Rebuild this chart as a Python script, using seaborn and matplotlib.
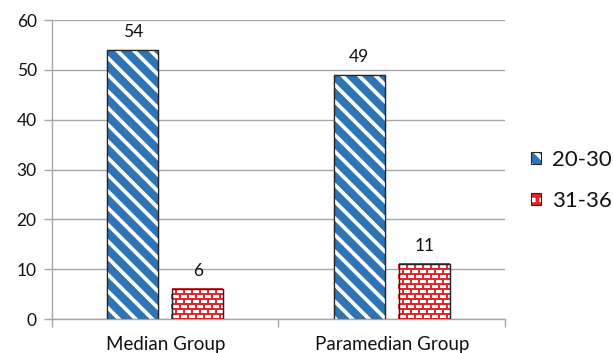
import numpy as np
import pandas as pd
import seaborn as sns
import matplotlib.pyplot as plt
from matplotlib.patches import Rectangle, Patch
from matplotlib.collections import LineCollection
from matplotlib.legend_handler import HandlerTuple

# Data
groups = ["Median Group", "Paramedian Group"]
age_bands = ["20-30", "31-36"]
counts_20_30 = [54, 49]
counts_31_36 = [6, 11]
y_ticks = [0, 10, 20, 30, 40, 50, 60]

df = pd.DataFrame({
    "group": groups * 2,
    "age": [age_bands[0]] * 2 + [age_bands[1]] * 2,
    "count": counts_20_30 + counts_31_36,
})

sns.set_theme(style="white")
plt.rcParams["font.family"] = ["Lato", "DejaVu Sans"]
plt.rcParams["hatch.linewidth"] = 2.7

BLUE = "#2e75b6"
RED = "#e02428"
GRID = "#a6a6a6"
EDGE = "#262626"
TEXT = "#111111"

fig = plt.figure(figsize=(6.13, 3.53), dpi=100)
ax = fig.add_axes([0.0848, 0.0963, 0.7390, 0.8470])

sns.barplot(data=df, x="group", y="count", hue="age", hue_order=age_bands,
            palette=[BLUE, "white"], width=0.574, gap=0.216, errorbar=None,
            saturation=1, edgecolor=EDGE, linewidth=0.9, legend=False, ax=ax)

ax.set_xlim(-0.5, 1.5)
ax.set_ylim(0, 60)
ax.set_yticks(y_ticks)
ax.set_xlabel("")
ax.set_ylabel("")

# pixel -> data scale factors
fig.canvas.draw()
bb = ax.get_window_extent()
px_x = (1.5 - (-0.5)) / bb.width
px_y = 60.0 / bb.height

# striped fill for the 20-30 bars
for bar in ax.containers[0]:
    x, y = bar.get_x(), bar.get_y()
    w, h = bar.get_width(), bar.get_height()
    ax.add_patch(Rectangle((x, y), w, h, facecolor="none", edgecolor="white",
                           hatch="\\\\", linewidth=0, zorder=3))
    ax.add_patch(Rectangle((x, y), w, h, facecolor="none", edgecolor=EDGE,
                           linewidth=0.9, zorder=4))

# brick fill for the 31-36 bars
row_h = 5 * px_y
brick_w = 8 * px_x
for bar in ax.containers[1]:
    x, y = bar.get_x(), bar.get_y()
    w, h = bar.get_width(), bar.get_height()
    segs = []
    nrows = int(np.ceil(h / row_h)) + 1
    for i in range(nrows):
        yb = y + i * row_h
        yt = yb + row_h
        segs.append([(x, yb), (x + w, yb)])
        off = (i % 2) * brick_w / 2
        xv = x + off
        while xv < x + w:
            segs.append([(xv, yb), (xv, min(yt, y + h))])
            xv += brick_w
    lc = LineCollection(segs, colors=RED, linewidths=1.4, zorder=3)
    lc.set_clip_path(bar)
    ax.add_collection(lc)
    ax.add_patch(Rectangle((x, y), w, h, facecolor="none", edgecolor=EDGE,
                           linewidth=0.9, zorder=4))

# value labels
for cont in ax.containers:
    ax.bar_label(cont, padding=7, fontsize=12.5, color=TEXT)

# axes styling
ax.set_axisbelow(True)
ax.yaxis.grid(True, color=GRID, linewidth=1)
ax.xaxis.grid(False)
for side in ("top", "right"):
    ax.spines[side].set_visible(False)
for side in ("left", "bottom"):
    ax.spines[side].set_color(GRID)
    ax.spines[side].set_linewidth(1)

ax.tick_params(axis="y", left=True, length=6, width=1, color=GRID,
               labelsize=12.5, labelcolor=TEXT, pad=5)
ax.set_xticks([0, 1])
ax.set_xticklabels(groups)
ax.tick_params(axis="x", which="major", length=0, labelsize=13.5,
               labelcolor=TEXT, pad=12)
ax.set_xticks([-0.5, 0.5, 1.5], minor=True)
ax.tick_params(axis="x", which="minor", bottom=True, length=6, width=1,
               color=GRID)

# legend
h_blue = (Patch(facecolor=BLUE, edgecolor="white", hatch="\\\\", linewidth=0),
          Patch(facecolor="none", edgecolor=EDGE, linewidth=0.8))
h_red = (Patch(facecolor="white", edgecolor=RED, hatch="++", linewidth=0),
         Patch(facecolor="none", edgecolor=EDGE, linewidth=0.8))
fig.legend([h_blue, h_red], age_bands,
           handler_map={tuple: HandlerTuple(ndivide=1)},
           loc="center left", bbox_to_anchor=(0.866, 0.489),
           borderaxespad=0, borderpad=0,
           frameon=False, fontsize=16, handlelength=0.47, handleheight=0.47,
           handletextpad=0.5, labelspacing=0.95, labelcolor=TEXT)

fig.savefig("out.png", dpi=100)
